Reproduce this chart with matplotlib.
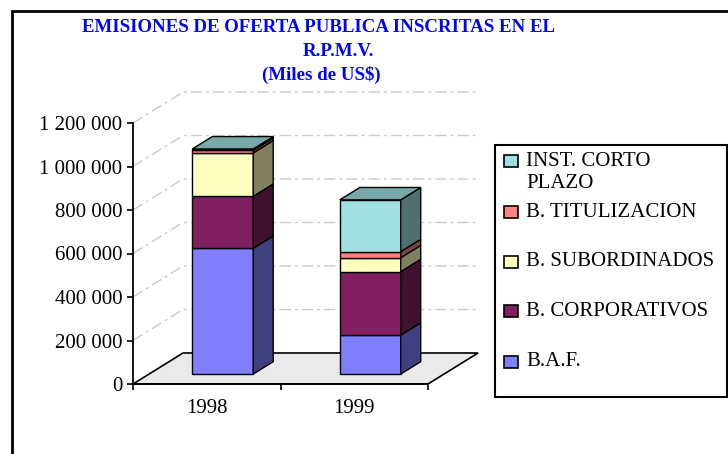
import matplotlib
matplotlib.use('Agg')
import matplotlib.pyplot as plt
from matplotlib.patches import Polygon, Rectangle
from matplotlib.ticker import FuncFormatter

plt.rcParams['font.family'] = ['Liberation Serif', 'DejaVu Serif']

# datos (miles de US$)
years = ['1998', '1999']
baf = [578000, 179000]
corporativos = [239000, 292000]
subordinados = [200000, 64000]
titulizacion = [12000, 28000]
corto_plazo = [6000, 238000]

series = [baf, corporativos, subordinados, titulizacion, corto_plazo]
labels = ['B.A.F.', 'B. CORPORATIVOS', 'B. SUBORDINADOS', 'B. TITULIZACION',
          'INST. CORTO\nPLAZO']
front_colors = ['#8080FF', '#802060', '#FFFFC0', '#FF8080', '#A0E0E0']
side_colors = ['#404080', '#401030', '#808060', '#804040', '#507070']
top_colors = ['#6060C0', '#601848', '#C0C090', '#C06060', '#78A8A8']
yticks = [0, 200000, 400000, 600000, 800000, 1000000, 1200000]

W, H = 728, 454


def fx(px):
    return px / W


def fy(py):
    return 1 - py / H


fig = plt.figure(figsize=(W / 100, H / 100), dpi=100)

# marco exterior
fig.patches.append(Rectangle((fx(12), fy(470)), fx(760) - fx(12), fy(11) - fy(470),
                             transform=fig.transFigure, fill=False,
                             edgecolor='black', lw=2))

ax = fig.add_axes([fx(133), fy(384), fx(428) - fx(133), fy(123) - fy(384)])
ax.set_xlim(-0.5, 1.5)
ax.set_ylim(0, 1200000)
ax.patch.set_visible(False)
for s in ['top', 'right']:
    ax.spines[s].set_visible(False)
for s in ['left', 'bottom']:
    ax.spines[s].set_linewidth(1.3)
    ax.spines[s].set_zorder(6)

# profundidad 3D
dx = 0.339
dy = 142500
front = 0.32
deep = 0.40
bar_w = 0.413

# piso
floor = Polygon([(-0.5, 0), (-0.5 + dx, dy), (1.5 + dx, dy), (1.5, 0)],
                closed=True, facecolor='#EAEAEA', edgecolor='black', lw=1.2,
                clip_on=False, zorder=1)
ax.add_patch(floor)

# lineas de division
for v in yticks[1:]:
    ax.plot([-0.5, -0.5 + dx, 1.5 + dx], [v, v + dy, v + dy], color='#CACACA',
            ls=(0, (8, 3, 2, 3)), lw=1, clip_on=False, zorder=0.5)

# barras apiladas
for i in range(len(years)):
    ox = i - bar_w / 2 + front * dx
    oy = front * dy
    xr = ox + bar_w
    b = 0
    for k, vals in enumerate(series):
        h = vals[i]
        ax.bar(ox, h, width=bar_w, bottom=oy + b, align='edge',
               color=front_colors[k], edgecolor='black', lw=1, zorder=3,
               clip_on=False)
        side = Polygon([(xr, oy + b), (xr + deep * dx, oy + b + deep * dy),
                        (xr + deep * dx, oy + b + h + deep * dy), (xr, oy + b + h)],
                       closed=True, facecolor=side_colors[k], edgecolor='black',
                       lw=1, zorder=3, clip_on=False)
        ax.add_patch(side)
        b += h
    t = oy + b
    top = Polygon([(ox, t), (ox + deep * dx, t + deep * dy),
                   (xr + deep * dx, t + deep * dy), (xr, t)],
                  closed=True, facecolor=top_colors[-1], edgecolor='black',
                  lw=1, zorder=3, clip_on=False)
    ax.add_patch(top)

# ejes
ax.set_yticks(yticks)
ax.yaxis.set_major_formatter(FuncFormatter(lambda v, _: f'{int(v):,}'.replace(',', ' ')))
ax.tick_params(axis='y', direction='out', length=4.5, width=1.2, pad=3, labelsize=15)
ax.set_xticks([0, 1])
ax.set_xticklabels(years)
ax.set_xticks([-0.5, 0.5, 1.5], minor=True)
ax.tick_params(axis='x', which='major', length=0, pad=11, labelsize=15)
ax.tick_params(axis='x', which='minor', direction='out', length=4.5, width=1.2)

# titulo
fig.text(fx(319), fy(28), 'EMISIONES DE OFERTA PUBLICA INSCRITAS EN EL',
         ha='center', va='center', fontsize=13.6, fontweight='bold', color='#0000FF')
fig.text(fx(338), fy(52), 'R.P.M.V.', ha='center', va='center', fontsize=13.6,
         fontweight='bold', color='#0000FF')
fig.text(fx(321), fy(75), '(Miles de US$)', ha='center', va='center', fontsize=13.6,
         fontweight='bold', color='#0000FF')

# leyenda
fig.patches.append(Rectangle((fx(495), fy(397)), fx(726.5) - fx(495), fy(145) - fy(397),
                             transform=fig.transFigure, fill=False,
                             edgecolor='black', lw=1.5))
legend_y = [362, 311, 262, 212, 161]
for k in range(len(labels)):
    yc = legend_y[k]
    fig.patches.append(Rectangle((fx(504), fy(yc + 6)), fx(518) - fx(504), fy(yc - 6) - fy(yc + 6),
                                 transform=fig.transFigure, facecolor=front_colors[k],
                                 edgecolor='black', lw=1.2))
    for j, line in enumerate(labels[k].split('\n')):
        fig.text(fx(526), fy(yc + 22 * j), line, ha='left', va='center', fontsize=15)

fig.savefig('out.png', dpi=100)
